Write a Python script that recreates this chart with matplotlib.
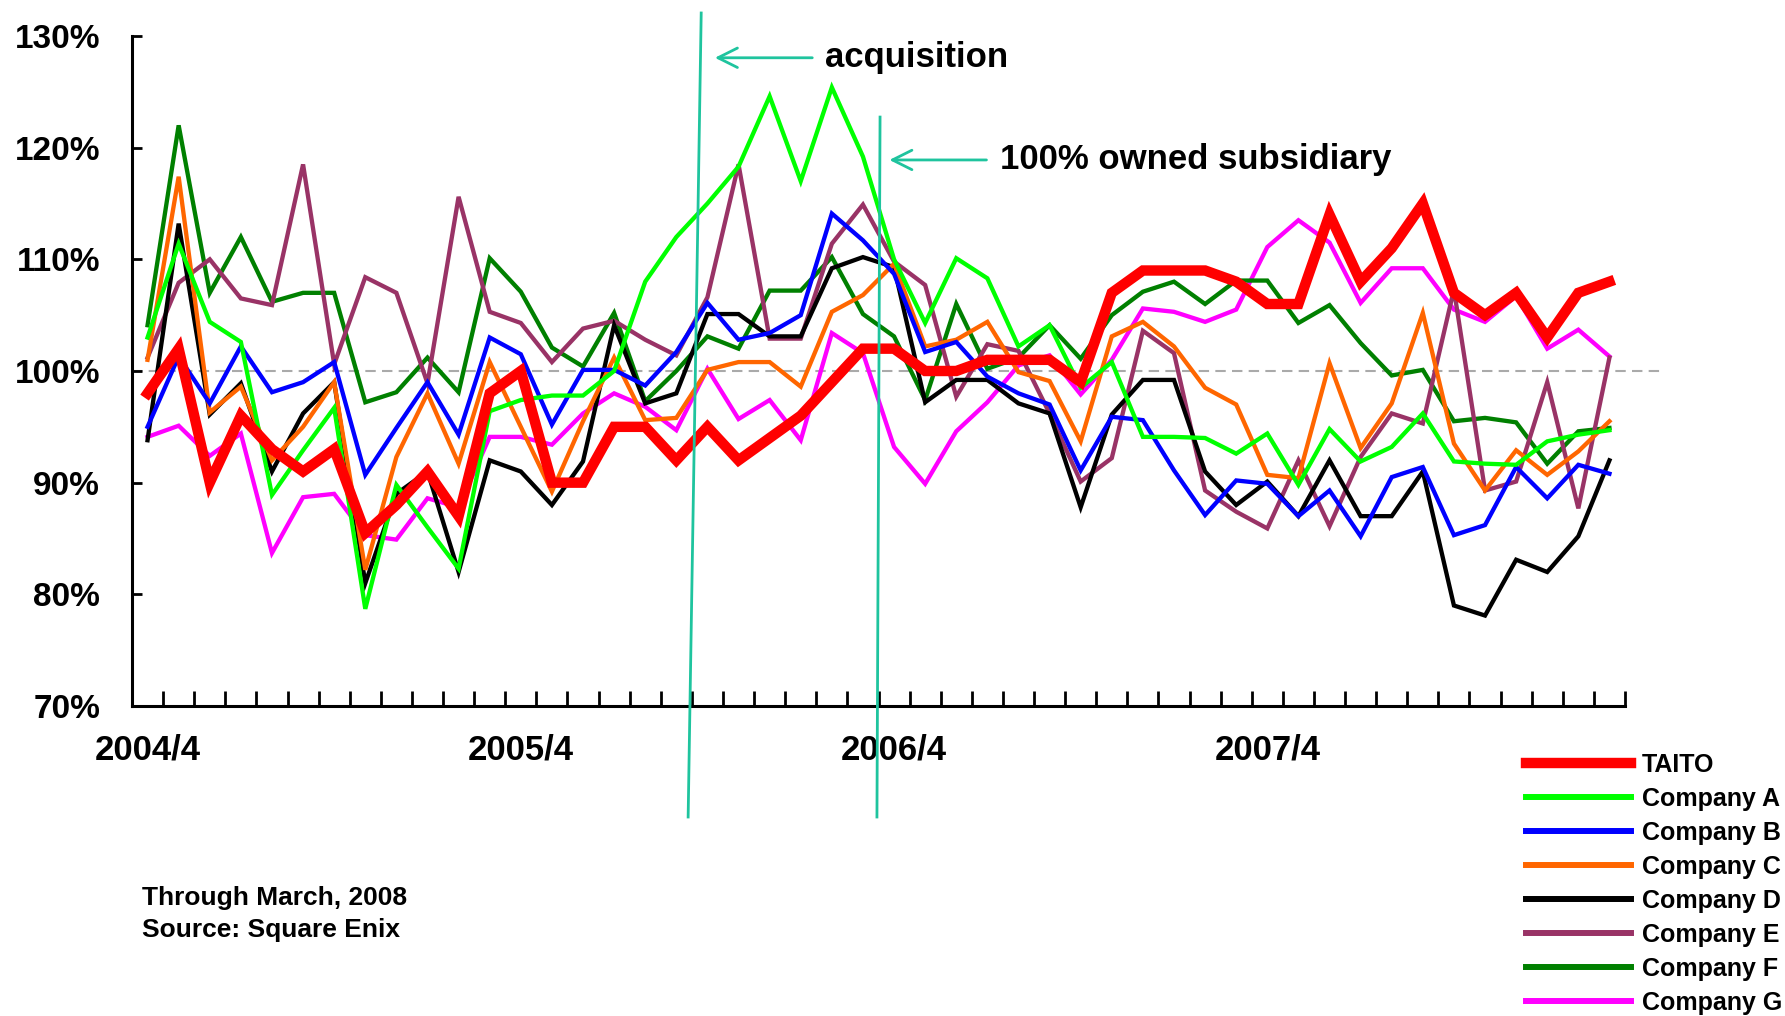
import matplotlib
matplotlib.use("Agg")
import matplotlib.pyplot as plt
import numpy as np

plt.rcParams['font.family'] = ['Liberation Sans', 'DejaVu Sans']
plt.rcParams['font.weight'] = 'bold'

# monthly sales vs. previous year (%), 2004/4 .. 2008/3
n_months = 48
tick_pos = [0, 12, 24, 36]
tick_labels = ["2004/4", "2005/4", "2006/4", "2007/4"]

taito = [98, 102, 90, 96, 93, 91, 93, 85.5, 88, 91, 87, 98, 100, 90, 90, 95, 95, 92, 95, 92,
         94, 96, 99, 102, 102, 100, 100, 101, 101, 101, 99, 107, 109, 109, 109, 108, 106, 106,
         114, 108, 111, 115, 107, 105, 107, 103, 107, 108]
company_a = [103, 111.4, 104.4, 102.6, 88.9, 92.9, 96.7, 78.7, 89.8, 86, 82.3, 96.4, 97.4, 97.8,
             97.8, 100, 108, 112, 115, 118.3, 124.6, 117, 125.4, 119.2, 110, 104.3, 110.1, 108.3,
             102.2, 104.1, 98.5, 100.8, 94.1, 94.1, 94, 92.6, 94.4, 89.8, 94.8, 91.9, 93.2, 96.2,
             91.9, 91.7, 91.6, 93.7, 94.3, 94.7]
company_b = [95, 101.3, 97.1, 102.2, 98.1, 99, 100.8, 90.7, 94.9, 99, 94.3, 103, 101.5, 95.2,
             100.1, 100.1, 98.7, 101.7, 106.1, 102.8, 103.4, 105, 114.1, 111.7, 108.7, 101.7,
             102.6, 99.5, 98, 97, 91.1, 95.9, 95.6, 91.1, 87.1, 90.2, 89.9, 87, 89.3, 85.2, 90.5,
             91.4, 85.3, 86.2, 91.4, 88.6, 91.6, 90.8]
company_c = [101, 117.4, 96.3, 98.6, 92, 95, 99, 82.2, 92.3, 98, 91.7, 100.8, 95, 89.2, 95.5,
             101.2, 95.6, 95.8, 100.1, 100.8, 100.8, 98.6, 105.3, 106.8, 109.6, 102.2, 102.8,
             104.4, 99.9, 99.1, 93.7, 103.1, 104.4, 102.2, 98.5, 97, 90.7, 90.4, 100.7, 93.1,
             97.1, 105.2, 93.5, 89.3, 92.9, 90.7, 92.8, 95.5]
company_d = [93.8, 113.2, 96.1, 98.9, 91, 96.2, 99, 81, 89, 91, 82, 92, 91, 88, 91.9, 104.1,
             97.1, 98, 105.1, 105.1, 103.1, 103.1, 109.2, 110.2, 109.3, 97.2, 99.2, 99.2, 97.1,
             96.2, 87.8, 96.1, 99.2, 99.2, 91, 88, 90.1, 87, 92, 87, 87, 91, 79, 78.1, 83.1, 82,
             85.2, 92]
company_e = [101.2, 107.9, 110, 106.5, 105.9, 118.5, 100.6, 108.4, 107, 98.9, 115.6, 105.3,
             104.3, 100.8, 103.8, 104.5, 102.8, 101.4, 106.6, 118.5, 102.9, 102.9, 111.4, 114.9,
             109.8, 107.7, 97.7, 102.4, 101.8, 96.2, 90.1, 92.2, 103.6, 101.6, 89.3, 87.4, 85.9,
             92, 86.1, 92.3, 96.2, 95.3, 107.3, 89.3, 90.1, 99, 87.7, 101.2]
company_f = [104.1, 122, 107, 112, 106.2, 107, 107, 97.2, 98.1, 101.2, 98.1, 110.1, 107.1, 102.1,
             100.4, 105.2, 97.3, 100, 103.1, 102, 107.2, 107.2, 110.2, 105.1, 103.1, 97.4, 106,
             100.2, 101.2, 104.1, 101.1, 105, 107.1, 108, 106, 108.1, 108.1, 104.3, 105.9, 102.5,
             99.6, 100.1, 95.5, 95.8, 95.4, 91.7, 94.6, 94.9]
company_g = [94.1, 95.1, 92.4, 94.4, 83.7, 88.7, 89, 85.3, 84.9, 88.6, 87.8, 94.1, 94.1, 93.4,
             96.2, 98, 96.8, 94.7, 100.2, 95.7, 97.4, 93.8, 103.4, 101.6, 93.2, 89.9, 94.6, 97.2,
             100.5, 101.4, 97.9, 101, 105.6, 105.3, 104.4, 105.5, 111.1, 113.5, 111.5, 106.1,
             109.2, 109.2, 105.5, 104.4, 106.7, 102, 103.7, 101.3]

names = ["TAITO", "Company A", "Company B", "Company C", "Company D", "Company E", "Company F", "Company G"]
series = [taito, company_a, company_b, company_c, company_d, company_e, company_f, company_g]
colors = ["#FF0000", "#00FF00", "#0000FF", "#FF6600", "#000000", "#993366", "#008000", "#FF00FF"]
teal = "#1FC49E"

fig = plt.figure(figsize=(17.85, 10.16), dpi=100)
ax = fig.add_axes([132 / 1785, 1 - 706 / 1016, (1625 - 132) / 1785, (706 - 36) / 1016])

x = np.arange(n_months)
ax.plot([-0.5, 48.76], [100, 100], ls=(0, (5, 3)), color="#AAAAAA", lw=1.5, clip_on=False, zorder=1)

lines = {}
for name, vals, c in reversed(list(zip(names, series, colors))):
    lw = 7.5 if name == "TAITO" else 3.1
    lines[name], = ax.plot(x, vals, color=c, lw=lw, label=name, zorder=3 if name == "TAITO" else 2,
                           solid_joinstyle="miter")

ax.set_xlim(-0.5, n_months - 0.5)
ax.set_ylim(70, 130)
ax.set_yticks(range(70, 131, 10))
ax.set_yticklabels([f"{v}%" for v in range(70, 131, 10)])
ax.tick_params(axis="y", direction="in", length=7, width=2, pad=23, labelsize=24)
ax.set_xticks(np.arange(0.5, n_months, 1))
ax.set_xticklabels([])
ax.set_xticks(tick_pos, minor=True)
ax.set_xticklabels(tick_labels, minor=True)
ax.tick_params(axis="x", which="major", direction="in", length=11, width=2)
ax.tick_params(axis="x", which="minor", length=0, pad=20, labelsize=25)
for s in ["top", "right"]:
    ax.spines[s].set_visible(False)
for s in ["left", "bottom"]:
    ax.spines[s].set_linewidth(2.2)

# event markers
acq_line = ([17.80, 17.38], [132.06, 60.06])
own_line = ([23.55, 23.45], [122.74, 60.06])
for lx, ly in [acq_line, own_line]:
    ax.plot(lx, ly, color=teal, lw=2, clip_on=False, zorder=5)

ax.annotate("", xy=(18.15, 128.05), xytext=(21.46, 128.05),
            arrowprops=dict(arrowstyle="->", color=teal, lw=2, mutation_scale=35))
ax.text(21.78, 128.05, "acquisition", fontsize=25, va="center", ha="left")
ax.annotate("", xy=(23.76, 118.9), xytext=(27.06, 118.9),
            arrowprops=dict(arrowstyle="->", color=teal, lw=2, mutation_scale=35))
ax.text(27.41, 118.9, "100% owned subsidiary", fontsize=25, va="center", ha="left")

handles = [lines[n] for n in names]
leg = fig.legend(handles, names, loc="upper left", bbox_to_anchor=(1526 / 1785, 1 - 753 / 1016),
                 frameon=False, fontsize=18, handlelength=4.2, handletextpad=0.44,
                 labelspacing=0.4, borderpad=0, borderaxespad=0)
for ln, n in zip(leg.get_lines(), names):
    ln.set_linewidth(7.5 if n == "TAITO" else 4.3)

fig.text(142 / 1785, 1 - 898 / 1016, "Through March, 2008", fontsize=19, va="center")
fig.text(142 / 1785, 1 - 930 / 1016, "Source: Square Enix", fontsize=19, va="center")

fig.savefig("out.png", dpi=100)
